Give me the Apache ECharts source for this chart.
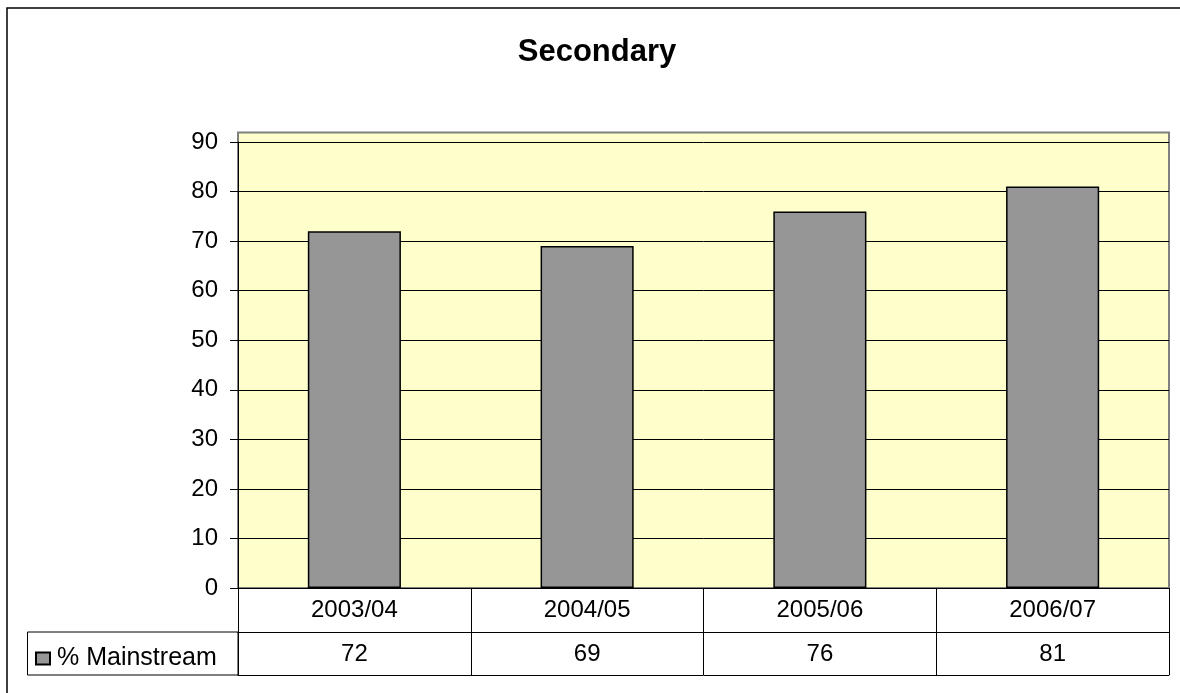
<!DOCTYPE html>
<html>
<head>
<meta charset="utf-8">
<script src="https://cdn.jsdelivr.net/npm/echarts@6/dist/echarts.min.js"></script>
<style>
  html, body { margin: 0; padding: 0; background: #fff; }
  #chart { width: 1180px; height: 693px; }
</style>
</head>
<body>
<div id="chart"></div>
<script>
// data
const years = ['2003/04', '2004/05', '2005/06', '2006/07']
const mainstream = [72, 69, 76, 81]
const yTicks = { min: 0, max: 90, step: 10 }

const FONT = '"Liberation Sans", Arial, sans-serif'

const chart = echarts.init(document.getElementById('chart'))

chart.setOption({
  backgroundColor: '#fff',
  animation: false,
  title: {
    text: 'Secondary',
    left: 592,
    top: 32,
    textAlign: 'center',
    textStyle: { fontFamily: FONT, fontSize: 31, fontWeight: 'bold', color: '#000' }
  },
  legend: {
    data: ['% Mainstream'],
    icon: 'rect',
    left: 35,
    top: 646,
    padding: 0,
    itemWidth: 14,
    itemHeight: 12,
    textStyle: { fontFamily: FONT, fontSize: 25, color: '#000', padding: [0, 0, 0, 2] }
  },
  // outer frame, plot area fill and legend cell of the data table
  graphic: [
    {
      type: 'rect', z: -10,
      shape: { x: 7, y: 8, width: 1200, height: 720 },
      style: { fill: '#fff', stroke: '#000', lineWidth: 1.5 }
    },
    {
      type: 'rect', z: -5,
      shape: { x: 238, y: 132.5, width: 931, height: 455.5 },
      style: { fill: '#FFFFCC', stroke: '#808080', lineWidth: 2 }
    },
    {
      type: 'rect', z: -5,
      shape: { x: 27.5, y: 632, width: 210.5, height: 43 },
      style: { fill: 'none', stroke: '#000', lineWidth: 1 }
    }
  ],
  grid: { left: 238, right: 11, top: 142, bottom: 105 },
  xAxis: [
    {
      type: 'category',
      data: years,
      position: 'bottom',
      axisLine: { lineStyle: { color: '#000', width: 1 } },
      axisTick: { show: true, length: 87, lineStyle: { color: '#000' } },
      axisLabel: { fontFamily: FONT, fontSize: 24, lineHeight: 24, color: '#000', margin: 10 }
    },
    {
      type: 'category',
      data: mainstream.map(String),
      position: 'bottom',
      offset: 44,
      axisLine: { lineStyle: { color: '#000', width: 1 } },
      axisTick: { show: false },
      axisLabel: { fontFamily: FONT, fontSize: 24, lineHeight: 24, color: '#000', margin: 10 }
    },
    {
      type: 'category',
      data: years,
      position: 'bottom',
      offset: 87,
      axisLine: { lineStyle: { color: '#000', width: 1 } },
      axisTick: { show: false },
      axisLabel: { show: false }
    }
  ],
  yAxis: {
    type: 'value',
    min: yTicks.min,
    max: yTicks.max,
    interval: yTicks.step,
    axisLine: { show: true, lineStyle: { color: '#000', width: 1 } },
    axisTick: { show: true, length: 8, lineStyle: { color: '#000' } },
    axisLabel: { fontFamily: FONT, fontSize: 24, color: '#000', margin: 20 },
    splitLine: { show: true, lineStyle: { color: '#000', width: 1 } }
  },
  series: [{
    name: '% Mainstream',
    type: 'bar',
    data: mainstream,
    barWidth: '40%',
    itemStyle: { color: '#969696', borderColor: '#000', borderWidth: 1.5 }
  }]
})
</script>
</body>
</html>
